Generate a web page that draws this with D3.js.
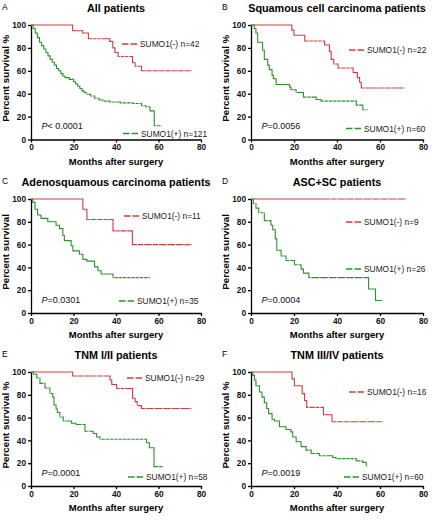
<!DOCTYPE html>
<html>
<head>
<meta charset="utf-8">
<script src="https://cdn.jsdelivr.net/npm/d3@7"></script>
<style>
  body { margin: 0; background: #fff; }
  svg text { font-family: "Liberation Sans", Arial, sans-serif; }
</style>
</head>
<body>
<div id="container"></div>
<script>
/* DATA */
const panelIds = ["A", "B", "C", "D", "E", "F"];
const titles = ["All patients", "Squamous cell carcinoma patients", "Adenosquamous carcinoma patients",
  "ASC+SC patients", "TNM I/II patients", "TNM III/IV patients"];
const yTitles = ["Percent survival %", "Percent survival %", "Percent survival", "Percent survival",
  "Percent survival %", "Percent survival %"];
const pLabels = ["< 0.0001", "=0.0056", "=0.0301", "=0.0004", "=0.0001", "=0.0019"];
const negLabels = ["SUMO1(-) n=42", "SUMO1(-) n=22", "SUMO1(-) n=11", "SUMO1(-) n=9", "SUMO1(-) n=29", "SUMO1(-) n=16"];
const posLabels = ["SUMO1(+) n=121", "SUMO1(+) n=60", "SUMO1(+) n=35", "SUMO1(+) n=26", "SUMO1(+) n=58", "SUMO1(+) n=60"];
const xTicks = [0, 20, 40, 60, 80];
const yTicks = [0, 20, 40, 60, 80, 100];

// Kaplan-Meier steps: [month, percent survival], last entry = end of follow-up
const negSteps = [
  [[0,100],[19.6,95],[24.3,93],[27,88],[37,85.7],[38.5,80],[39.5,76],[41,72.5],[47.8,67],[49,64],[52,60],[75.6,60]],
  [[0,100],[19,95.5],[20,91],[25,86],[34.2,82.5],[36.5,77],[37.3,70],[38.5,66],[40.5,62.5],[47.5,58.5],[49.5,54],[50.5,50],[51.3,45],[71.5,45]],
  [[0,100],[24.4,91],[26.3,82],[38.6,72],[47.7,60],[75.6,60]],
  [[0,100],[72.2,100]],
  [[0,100],[19.6,96.5],[37.2,93],[38,89],[40.3,85.5],[47.8,77],[49,74],[50,70.5],[52,68],[75.6,68]],
  [[0,100],[19.1,94],[20.2,88],[23.8,81],[24.9,75],[25.9,69],[33.7,62.5],[37.7,56.3],[61.4,56.3]]
];
const posSteps = [
  [[0,100],[1,97],[2,93],[3,89],[4,85],[5,82],[6,79],[7,76],[8,73],[9,70],[10,67.5],[11,65],[12,62],[13,60],[14,57.5],
   [15,55.5],[16,54],[18,52.5],[20,50.5],[21,48.5],[22,46.5],[23,44.5],[24,42.5],[25,41],[26,39.5],[28,38],[30,36],
   [32,34.5],[34,33.5],[37,32.7],[42,32],[48,31.5],[52,29.5],[54,28.6],[56,25],[58,12],[61.5,12]],
  [[0,100],[1.5,97],[2.3,93],[3.1,85],[5.4,78],[6.2,70],[7.8,65],[8.5,61],[9.8,56],[10.4,53],[11.7,48],[17.9,46],
   [18.6,43.5],[21,41],[24.4,37],[30.3,35],[32.6,33.5],[49,30],[52,26],[54.4,26]],
  [[0,100],[0.8,97],[1.9,91],[3.1,86],[4.7,83],[7.9,80],[11.8,77],[13.4,74],[15,68],[15.7,63.5],[18.9,59],[19.7,54.5],
   [22.8,51.5],[24.4,47],[26.3,45.5],[29.9,40.5],[31.5,37],[33,34.2],[38.6,31],[55.9,31]],
  [[0,100],[1.1,96],[2.3,92],[3.6,88],[6.2,81],[9.3,77],[10.1,73],[11.3,65],[12,55],[14,50],[16.3,46],[20.2,42.3],
   [23.3,38.5],[24.4,35],[26.9,31],[54.7,21],[57.9,11],[61,11]],
  [[0,100],[1.1,98],[2.7,95],[4.2,90],[6.6,86],[8.9,81],[10.2,78],[10.8,71],[11.8,67.5],[12.4,64.5],[13.6,60.5],
   [15.2,57],[19.1,55],[21.2,54],[25.4,48],[29.3,46],[30.9,43],[32.5,41],[54.4,38],[55.7,33.5],[57.9,17],[62.3,17]],
  [[0,100],[0.8,97],[1.6,93],[2.3,88],[3.9,82.5],[5.1,78],[6.2,73],[7.3,68],[8.2,63.5],[9.8,58.5],[10.9,57],[13.2,52],
   [16.3,49.5],[18.6,47.5],[19.4,43],[21,38.8],[23.3,34.5],[25.6,31.5],[28,28.5],[31.8,26.5],[38,25],[39.6,24],
   [49,22],[52,20.7],[53.6,17.8],[54.4,17.8]]
];
// censored times (months)
const negCensor = [
  [29,31,33,42,44,46,50,54,57,60,63,66,69,72,75],
  [27,29,31,33,39,42,44,46,53,56,59,62,65,68,71],
  [28,31,34,36,40,42,45,50,53,57,60,64,68,72,75],
  [37,40,44,48,52,56,60,64,68,72],
  [22,25,28,31,34,42,44,50,54,58,62,66,70,75],
  [27,30,32,40,43,46,50,54,58,61]
];
const posCensor = [
  [26,29,31,34,36,38,40,43,45,47,49,51,53,55,59,61],
  [21,26,28,34,36,38,40,42,44,46,48,50,53,54],
  [39,41,43,45,47,49,51,53,55],
  [2,4,6,8,15,18,22,28,32,36,40,44,48,52],
  [4,6,8,9,14,16,24,27,33,35,37,39,41,43,45,47,49,51,53,60,62],
  [27,30,33,35,40,42,44,46,48,51,54]
];

/* LAYOUT */
const W = 432, H = 520;
const cols = [{x0: 31, x1: 201}, {x0: 251, x1: 423}];
const rows = [{top: 25, bottom: 139.5}, {top: 199, bottom: 313}, {top: 372, bottom: 486}];
// legend sample offsets from plot corner: [negDx, negDyFromTop, posDx, posDyFromBottom]
const legendPos = [[91,19,92,6],[98,25,95,11],[93,17,88,12],[95,23,95,44],[96,6,97,9],[98,20,93,9]];
const RED = "#d43c3c", GREEN = "#2a942a";

const svg = d3.select("#container").append("svg")
  .attr("width", W).attr("height", H)
  .style("background", "#fff");

function survAt(steps, t) {
  let v = steps[0][1];
  steps.forEach(s => { if (s[0] <= t) v = s[1]; });
  return v;
}

const line = d3.line().curve(d3.curveStepAfter);

panelIds.forEach((id, i) => {
  const c = cols[i % 2], r = rows[Math.floor(i / 2)];
  const x = d3.scaleLinear().domain([0, 80]).range([c.x0, c.x1]);
  const y = d3.scaleLinear().domain([0, 100]).range([r.bottom, r.top]);
  const g = svg.append("g");

  // axes
  const xAxis = d3.axisBottom(x).tickValues(xTicks).tickSize(3).tickSizeOuter(0).tickPadding(2);
  const yAxis = d3.axisLeft(y).tickValues(yTicks).tickSize(3).tickSizeOuter(0).tickPadding(2);
  const gx = g.append("g").attr("transform", `translate(0,${r.bottom})`).call(xAxis);
  const gy = g.append("g").attr("transform", `translate(${c.x0},0)`).call(yAxis);
  [gx, gy].forEach(a => {
    a.selectAll("path, line").attr("stroke", "#000").attr("stroke-width", 1.3);
    a.selectAll("text").attr("font-size", 8.3).attr("font-weight", "bold").attr("fill", "#111");
  });

  // curves, censored subjects shown as small breaks
  const series = [
    {steps: negSteps[i], cens: negCensor[i], color: RED},
    {steps: posSteps[i], cens: posCensor[i], color: GREEN}
  ];
  series.forEach(s => {
    g.append("path")
      .attr("d", line(s.steps.map(d => [x(d[0]), y(d[1])])))
      .attr("fill", "none").attr("stroke", s.color).attr("stroke-width", 1.1);
    g.selectAll(null).data(s.cens).join("line")
      .attr("x1", d => x(d) - 0.6).attr("x2", d => x(d) + 0.6)
      .attr("y1", d => y(survAt(s.steps, d)))
      .attr("y2", d => y(survAt(s.steps, d)))
      .attr("stroke", "#fff").attr("stroke-opacity", 0.75).attr("stroke-width", 1.6);
  });

  // titles
  g.append("text").attr("x", (c.x0 + c.x1) / 2).attr("y", r.top - 13.5)
    .attr("text-anchor", "middle").attr("font-size", 10.8).attr("font-weight", "bold")
    .text(titles[i]);
  g.append("text").attr("x", c.x0 - 29).attr("y", Math.max(8, r.top - 15))
    .attr("font-size", 8.5).text(id);
  g.append("text").attr("x", (c.x0 + c.x1) / 2).attr("y", r.bottom + 25)
    .attr("text-anchor", "middle").attr("font-size", 9.5).attr("font-weight", "bold")
    .text("Months after surgery");
  g.append("text")
    .attr("transform", `translate(${c.x0 - 22},${(r.top + r.bottom) / 2 - 4}) rotate(-90)`)
    .attr("text-anchor", "middle").attr("font-size", 9.8).attr("font-weight", "bold")
    .text(yTitles[i]);

  // p value
  const pt = g.append("text").attr("x", c.x0 + 10.5).attr("y", r.bottom - 10.5)
    .attr("font-size", 9).attr("fill", "#111");
  pt.append("tspan").attr("font-style", "italic").text("P");
  pt.append("tspan").text(pLabels[i]);

  // legend
  const lp = legendPos[i];
  const leg = [
    {lx: c.x0 + lp[0], ly: r.top + lp[1], color: RED, label: negLabels[i]},
    {lx: c.x0 + lp[2], ly: r.bottom - lp[3], color: GREEN, label: posLabels[i]}
  ];
  leg.forEach(d => {
    g.append("line").attr("x1", d.lx).attr("x2", d.lx + 15).attr("y1", d.ly).attr("y2", d.ly)
      .attr("stroke", d.color).attr("stroke-width", 1.3).attr("stroke-dasharray", "6.5,2");
    g.append("text").attr("x", d.lx + 18).attr("y", d.ly + 3)
      .attr("font-size", 8.4).attr("fill", "#222").text(d.label);
  });
});
</script>
</body>
</html>
